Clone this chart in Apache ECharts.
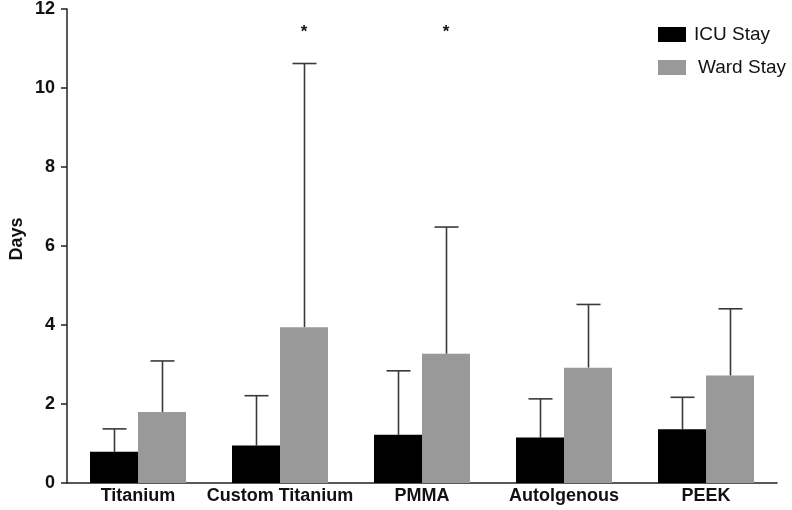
<!DOCTYPE html>
<html>
<head>
<meta charset="utf-8">
<script src="https://cdn.jsdelivr.net/npm/echarts@6/dist/echarts.min.js"></script>
<style>html,body{margin:0;padding:0;background:#fff}#c{width:792px;height:510px}</style>
</head>
<body>
<div id="c"></div>
<script>
var categories = ['Titanium', 'Custom Titanium', 'PMMA', 'Autolgenous', 'PEEK'];
var icuMean = [0.79, 0.95, 1.22, 1.15, 1.36];
var icuUpper = [1.37, 2.21, 2.84, 2.13, 2.17];
var wardMean = [1.80, 3.94, 3.27, 2.92, 2.72];
var wardUpper = [3.09, 10.62, 6.48, 4.52, 4.41];
var significance = ['', '*', '*', '', ''];
var sigLevel = 11.4;
var yTicks = [0, 2, 4, 6, 8, 10, 12];

var chart = echarts.init(document.getElementById('c'), null, {renderer: 'canvas'});
var BW = 48;
var FONT = 'Liberation Sans, Arial, Helvetica';
function errSeries(upper, mean, dir) {
  return {
    type: 'custom',
    silent: true,
    z: 1,
    data: upper.map(function (u, i) { return [i, mean[i], u]; }),
    renderItem: function (params, api) {
      var base = api.coord([api.value(0), api.value(1)]);
      var top = api.coord([api.value(0), api.value(2)]);
      var x = Math.round(base[0] + dir * BW / 2) + 0.5;
      var st = {stroke: '#3a3a3a', lineWidth: 1.6};
      return {type: 'group', children: [
        {type: 'line', shape: {x1: x, y1: base[1], x2: x, y2: top[1]}, style: st},
        {type: 'line', shape: {x1: x - 12, y1: top[1], x2: x + 12, y2: top[1]}, style: st}
      ]};
    }
  };
}
chart.setOption({
  animation: false,
  grid: {left: 67, right: 15, top: 9, bottom: 27, containLabel: false},
  legend: {
    data: [{name: 'ICU Stay'}, {name: 'Ward Stay', textStyle: {padding: [0, 0, 0, 7]}}],
    orient: 'vertical',
    left: 653, top: 20,
    itemWidth: 28, itemHeight: 15, itemGap: 14,
    icon: 'rect',
    textStyle: {fontFamily: FONT, fontSize: 19, color: '#111', padding: [0, 0, 0, 3]}
  },
  graphic: [{
    type: 'text',
    rotation: Math.PI / 2,
    x: 17, y: 239,
    style: {text: 'Days', fontFamily: FONT, fontWeight: 'bold', fontSize: 18, fill: '#111', textAlign: 'center', textVerticalAlign: 'middle'}
  }],
  xAxis: {
    type: 'category', data: categories,
    axisLine: {lineStyle: {color: '#222', width: 1.5}},
    axisTick: {show: false},
    axisLabel: {fontFamily: FONT, fontWeight: 'bold', fontSize: 18, color: '#111', margin: 4, interval: 0}
  },
  yAxis: {
    type: 'value', min: 0, max: 12, interval: 2,
    axisLine: {show: true, lineStyle: {color: '#222', width: 1.5}},
    axisTick: {show: true, length: 6, lineStyle: {color: '#222', width: 1.5}},
    splitLine: {show: false},
    axisLabel: {fontFamily: FONT, fontWeight: 'bold', fontSize: 18, color: '#111', margin: 12,
      formatter: function (v) { return yTicks.indexOf(v) >= 0 ? String(v) : ''; }}
  },
  series: [
    {name: 'ICU Stay', type: 'bar', data: icuMean, barWidth: BW, barGap: '0%', itemStyle: {color: '#000'}, z: 2},
    {name: 'Ward Stay', type: 'bar', data: wardMean, barWidth: BW, barGap: '0%', itemStyle: {color: '#999999'}, z: 2},
    errSeries(icuUpper, icuMean, -1),
    errSeries(wardUpper, wardMean, 1),
    {
      type: 'custom', silent: true,
      data: significance.map(function (s, i) { return [i, sigLevel, s]; }),
      renderItem: function (params, api) {
        var p = api.coord([api.value(0), api.value(1)]);
        return {type: 'text', x: p[0] + BW / 2, y: p[1],
          style: {text: significance[params.dataIndex], fontFamily: FONT, fontWeight: 'bold', fontSize: 17, fill: '#111', textAlign: 'center', textVerticalAlign: 'middle'}};
      }
    }
  ]
});
</script>
</body>
</html>
